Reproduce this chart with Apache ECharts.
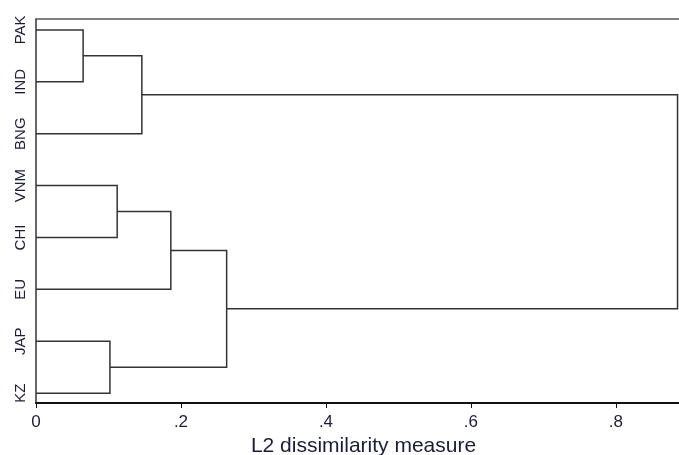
<!DOCTYPE html>
<html>
<head>
<meta charset="utf-8">
<script src="https://cdn.jsdelivr.net/npm/echarts@6/dist/echarts.min.js"></script>
<style>
  html, body { margin: 0; padding: 0; background: #fff; }
  #chart { width: 679px; height: 455px; }
</style>
</head>
<body>
<div id="chart"></div>
<script>
// leaves, top to bottom
const leaves = ['PAK', 'IND', 'BNG', 'VNM', 'CHI', 'EU', 'JAP', 'KZ']
// merges: node ids 0..7 are leaves, each merge creates node 8, 9, ...
const mergeLeft = [0, 8, 3, 10, 6, 11, 9]
const mergeRight = [1, 2, 4, 5, 7, 12, 13]
const mergeHeight = [0.065, 0.146, 0.112, 0.186, 0.102, 0.263, 0.885]
const xTicks = [0, 0.2, 0.4, 0.6, 0.8]

// node position (y = leaf index, x = height)
const nodeY = leaves.map((_, i) => i)
const nodeX = leaves.map(() => 0)
const links = []
mergeHeight.forEach((h, i) => {
  const a = mergeLeft[i], b = mergeRight[i]
  links.push([nodeX[a], nodeY[a], h, nodeY[b], nodeX[b]])
  nodeY.push((nodeY[a] + nodeY[b]) / 2)
  nodeX.push(h)
})

const labelFormat = v => {
  if (v === 0) return '0'
  return String(Math.round(v * 10) / 10).replace(/^0/, '')
}

const chart = echarts.init(document.getElementById('chart'))
chart.setOption({
  animation: false,
  grid: {left: 36, right: 0, top: 19, bottom: 52, outerBoundsMode: 'none', containLabel: false},
  xAxis: [{
    type: 'value',
    min: 0,
    max: 0.887,
    position: 'bottom',
    splitLine: {show: false},
    axisLine: {show: true, onZero: false, lineStyle: {color: '#111', width: 2}},
    axisTick: {show: true, length: 5, lineStyle: {color: '#111', width: 1}, customValues: xTicks},
    axisLabel: {
      customValues: xTicks, formatter: labelFormat, color: '#1c1c3a',
      fontFamily: 'Liberation Sans', fontSize: 17, margin: 11
    },
    name: 'L2 dissimilarity measure',
    nameLocation: 'middle',
    nameGap: 32,
    nameTextStyle: {fontFamily: 'Liberation Sans', fontSize: 21, color: '#1c1c3a', padding: [0, 0, 0, 12]}
  }, {
    type: 'value',
    min: 0,
    max: 0.887,
    position: 'top',
    splitLine: {show: false},
    axisLine: {show: true, onZero: false, lineStyle: {color: '#555', width: 1.5}},
    axisTick: {show: false},
    axisLabel: {show: false}
  }],
  yAxis: {
    type: 'value',
    inverse: true,
    min: -0.21,
    max: 7.19,
    splitLine: {show: false},
    axisLine: {show: true, onZero: false, lineStyle: {color: '#333', width: 1.5}},
    axisTick: {show: false},
    axisLabel: {
      customValues: leaves.map((_, i) => i),
      formatter: v => leaves[v],
      rotate: 90,
      color: '#1c1c3a',
      fontFamily: 'Liberation Sans',
      fontSize: 15,
      margin: 8
    }
  },
  series: [{
    type: 'custom',
    renderItem: (params, api) => {
      const p1 = api.coord([api.value(0), api.value(1)])
      const p2 = api.coord([api.value(2), api.value(1)])
      const p3 = api.coord([api.value(2), api.value(3)])
      const p4 = api.coord([api.value(4), api.value(3)])
      return {
        type: 'polyline',
        shape: {points: [p1, p2, p3, p4]},
        style: {stroke: '#333', lineWidth: 1.5, fill: null}
      }
    },
    data: links,
    clip: false
  }]
})
</script>
</body>
</html>
